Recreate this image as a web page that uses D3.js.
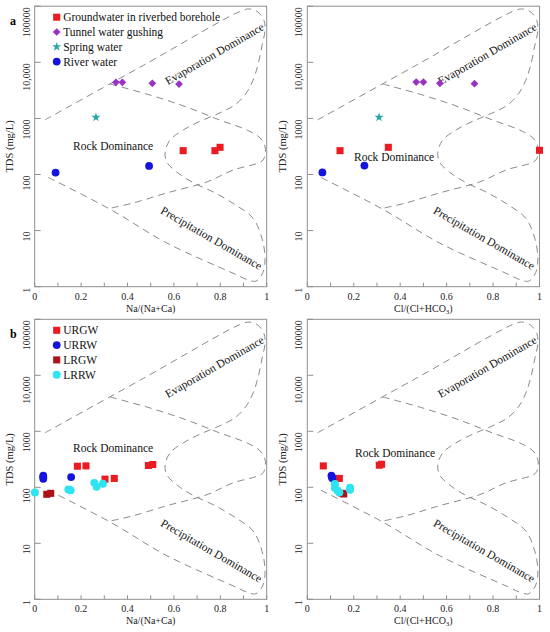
<!DOCTYPE html>
<html>
<head>
<meta charset="utf-8">
<script src="https://cdn.jsdelivr.net/npm/d3@7"></script>
<style>
  body { margin: 0; background: #fff; }
  svg { font-family: "Liberation Serif", "Times New Roman", serif; }
</style>
</head>
<body>
<div id="chart"></div>
<script>
// Gibbs boundary curves, [ratio, TDS mg/L]
const gibbsOuter = [
  [0.044, 940], [0.47, 8900], [0.898, 85000], [0.928, 89000], [0.962, 79000],
  [0.988, 56000], [0.993, 38000], [0.980, 20000], [0.962, 8900], [0.941, 4800],
  [0.911, 2800], [0.863, 1740], [0.799, 1260], [0.713, 890], [0.640, 620],
  [0.583, 410], [0.562, 250], [0.570, 166], [0.613, 110], [0.682, 72],
  [0.769, 49], [0.864, 29], [0.941, 16.6], [0.980, 7.2], [0.993, 3.2],
  [0.984, 1.8], [0.954, 1.26], [0.920, 1.32], [0.855, 1.74], [0.570, 6.0],
  [0.325, 24], [0.053, 91]
];
const gibbsInner = [
  [0.325, 4100], [0.497, 2610], [0.657, 1580], [0.799, 930], [0.915, 620],
  [0.971, 450], [0.993, 310], [0.993, 225], [0.980, 174], [0.855, 120],
  [0.743, 74], [0.570, 47], [0.424, 31], [0.325, 25]
];

// panel a samples
const aNaGroundwater = [[0.64, 266], [0.777, 266], [0.799, 305]];
const aClGroundwater = [[0.141, 266], [0.349, 305], [1.0, 270]];
const aNaTunnel = [[0.350, 4400], [0.378, 4400], [0.507, 4230], [0.622, 4100]];
const aClTunnel = [[0.469, 4450], [0.500, 4450], [0.571, 4230], [0.720, 4150]];
const aNaSpring = [[0.264, 1045]];
const aClSpring = [[0.309, 1045]];
const aNaRiver = [[0.09, 108], [0.493, 142]];
const aClRiver = [[0.065, 109], [0.246, 144]];

// panel b samples
const bNaURGW = [[0.184, 238], [0.221, 241], [0.303, 140], [0.343, 144], [0.49, 245], [0.509, 255]];
const bNaURRW = [[0.037, 161], [0.037, 151], [0.037, 142], [0.157, 152]];
const bNaLRGW = [[0.052, 75], [0.069, 78]];
const bNaLRRW = [[0.001, 81], [0.145, 91], [0.155, 89], [0.257, 120], [0.267, 102], [0.294, 116]];
const bClURGW = [[0.069, 241], [0.138, 144], [0.31, 248], [0.32, 258]];
const bClURRW = [[0.104, 162], [0.106, 153], [0.108, 145]];
const bClLRGW = [[0.150, 78], [0.157, 76]];
const bClLRRW = [[0.119, 114], [0.119, 97], [0.130, 88], [0.138, 81], [0.184, 98], [0.184, 90]];

const legendA = ["Groundwater in riverbed borehole", "Tunnel water gushing", "Spring water", "River water"];
const legendB = ["URGW", "URRW", "LRGW", "LRRW"];
const xTicks = [0, 0.1, 0.2, 0.3, 0.4, 0.5, 0.6, 0.7, 0.8, 0.9, 1];
const xTickLabels = ["0", "0.2", "0.4", "0.6", "0.8", "1"];
const yTicks = [1, 10, 100, 1000, 10000, 100000];
const yTickLabels = ["1", "10", "100", "1000", "10,000", "100000"];

// marker styles
const styleA = [
  {shape: "square", color: "#ea1c22", size: 50},
  {shape: "diamond", color: "#9a32c4", size: 30},
  {shape: "star", color: "#2aa6a6", size: 26},
  {shape: "circle", color: "#1414dc", size: 48}
];
const styleB = [
  {shape: "square", color: "#ea1c22", size: 50},
  {shape: "circle", color: "#1414dc", size: 48},
  {shape: "square", color: "#ad1218", size: 50},
  {shape: "circle", color: "#2ee4f0", size: 50}
];

const panels = [
  {x0: 34.7, x1: 266.7, yTop: 6.2, yBot: 286.7, letter: "a", xTitle: "Na", series: [aNaGroundwater, aNaTunnel, aNaSpring, aNaRiver], styles: styleA, legend: legendA, rock: [0.338, 320]},
  {x0: 307.3, x1: 539.5, yTop: 6.2, yBot: 286.7, letter: null, xTitle: "Cl", series: [aClGroundwater, aClTunnel, aClSpring, aClRiver], styles: styleA, legend: null, rock: [0.374, 205]},
  {x0: 34.7, x1: 266.7, yTop: 319.3, yBot: 599.3, letter: "b", xTitle: "Na", series: [bNaURGW, bNaURRW, bNaLRGW, bNaLRRW], styles: styleB, legend: legendB, rock: [0.338, 500]},
  {x0: 307.3, x1: 539.5, yTop: 319.3, yBot: 599.3, letter: null, xTitle: "Cl", series: [bClURGW, bClURRW, bClLRGW, bClLRRW], styles: styleB, legend: null, rock: [0.378, 415]}
];

const axisColor = "#8f8f8f";
const svg = d3.select("#chart").append("svg")
  .attr("width", 550).attr("height", 632);

function markerPath(st) {
  const type = {square: d3.symbolSquare, diamond: d3.symbolSquare, star: d3.symbolStar, circle: d3.symbolCircle}[st.shape];
  return d3.symbol().type(type).size(st.size)();
}
function markerRot(st) { return st.shape === "diamond" ? " rotate(45)" : ""; }

panels.forEach(p => {
  const x = d3.scaleLinear().domain([0, 1]).range([p.x0, p.x1]);
  const y = d3.scaleLog().domain([1, 100000]).range([p.yBot, p.yTop]);
  const g = svg.append("g");

  // frame
  g.append("rect")
    .attr("x", p.x0).attr("y", p.yTop)
    .attr("width", p.x1 - p.x0).attr("height", p.yBot - p.yTop)
    .attr("fill", "none").attr("stroke", axisColor).attr("stroke-width", 1);

  // ticks (inward)
  g.selectAll(".xt").data(xTicks).enter().append("line")
    .attr("x1", d => x(d)).attr("x2", d => x(d))
    .attr("y1", p.yBot).attr("y2", p.yBot - 4)
    .attr("stroke", axisColor);
  g.selectAll(".yt").data(yTicks).enter().append("line")
    .attr("x1", p.x0).attr("x2", p.x0 + 6)
    .attr("y1", d => y(d)).attr("y2", d => y(d))
    .attr("stroke", axisColor);

  // tick labels
  g.selectAll(".xl").data(xTickLabels).enter().append("text")
    .attr("x", d => x(+d)).attr("y", p.yBot + 13)
    .attr("text-anchor", "middle").attr("font-size", 10).attr("fill", "#222")
    .text(d => d);
  g.selectAll(".yl").data(yTicks).enter().append("text")
    .attr("transform", d => `translate(${p.x0 - 5.2},${y(d) + 1}) rotate(-90)`)
    .attr("text-anchor", "end").attr("font-size", 10).attr("fill", "#222")
    .text((d, i) => yTickLabels[i]);

  // axis titles
  const xt = g.append("text")
    .attr("x", (p.x0 + p.x1) / 2).attr("y", p.yBot + 25)
    .attr("text-anchor", "middle").attr("font-size", 10).attr("fill", "#222");
  if (p.xTitle === "Na") {
    xt.text("Na/(Na+Ca)");
  } else {
    xt.append("tspan").text("Cl/(Cl+HCO");
    xt.append("tspan").attr("font-size", 7).attr("dy", 2).text("3");
    xt.append("tspan").attr("dy", -2).text(")");
  }
  g.append("text")
    .attr("transform", `translate(${p.x0 - 21.5},${(p.yTop + p.yBot) / 2}) rotate(-90)`)
    .attr("text-anchor", "middle").attr("font-size", 10.5).attr("fill", "#222")
    .text("TDS (mg/L)");

  // Gibbs boundaries
  const line = d3.line().x(d => x(d[0])).y(d => y(d[1])).curve(d3.curveCatmullRom.alpha(0.5));
  [gibbsOuter, gibbsInner].forEach(c => {
    g.append("path").attr("d", line(c))
      .attr("fill", "none").attr("stroke", "#8a8a8a")
      .attr("stroke-width", 1).attr("stroke-dasharray", "7,5");
  });

  // region labels
  g.append("text")
    .attr("transform", `translate(${x(0.775)},${y(14200)}) rotate(-30)`)
    .attr("text-anchor", "middle").attr("dominant-baseline", "central")
    .attr("font-size", 11.5).attr("fill", "#111").text("Evaporation Dominance");
  g.append("text")
    .attr("transform", `translate(${x(0.762)},${y(7.4)}) rotate(30)`)
    .attr("text-anchor", "middle").attr("dominant-baseline", "central")
    .attr("font-size", 11.5).attr("fill", "#111").text("Precipitation Dominance");
  g.append("text")
    .attr("x", x(p.rock[0])).attr("y", y(p.rock[1]))
    .attr("text-anchor", "middle").attr("dominant-baseline", "central")
    .attr("font-size", 11.5).attr("fill", "#111").text("Rock Dominance");

  // samples
  p.series.forEach((s, i) => {
    const st = p.styles[i];
    g.selectAll(null).data(s).enter().append("path")
      .attr("d", markerPath(st))
      .attr("transform", d => `translate(${x(d[0])},${y(d[1])})${markerRot(st)}`)
      .attr("fill", st.color);
  });

  // legend
  if (p.legend) {
    const lg = g.append("g").attr("transform", `translate(${p.x0 + 22},${p.yTop + 11})`);
    p.legend.forEach((name, i) => {
      const st = p.styles[i];
      const row = lg.append("g").attr("transform", `translate(0,${i * 14.8})`);
      row.append("path").attr("d", markerPath(st))
        .attr("transform", "translate(0,0)" + markerRot(st))
        .attr("fill", st.color);
      row.append("text").attr("x", 6.5).attr("y", 0)
        .attr("dominant-baseline", "central")
        .attr("font-size", 11.5).attr("fill", "#111").text(name);
    });
  }

  if (p.letter) {
    g.append("text").attr("x", 10).attr("y", p.yTop + 19)
      .attr("font-size", 12).attr("font-weight", "bold").text(p.letter);
  }
});
</script>
</body>
</html>
